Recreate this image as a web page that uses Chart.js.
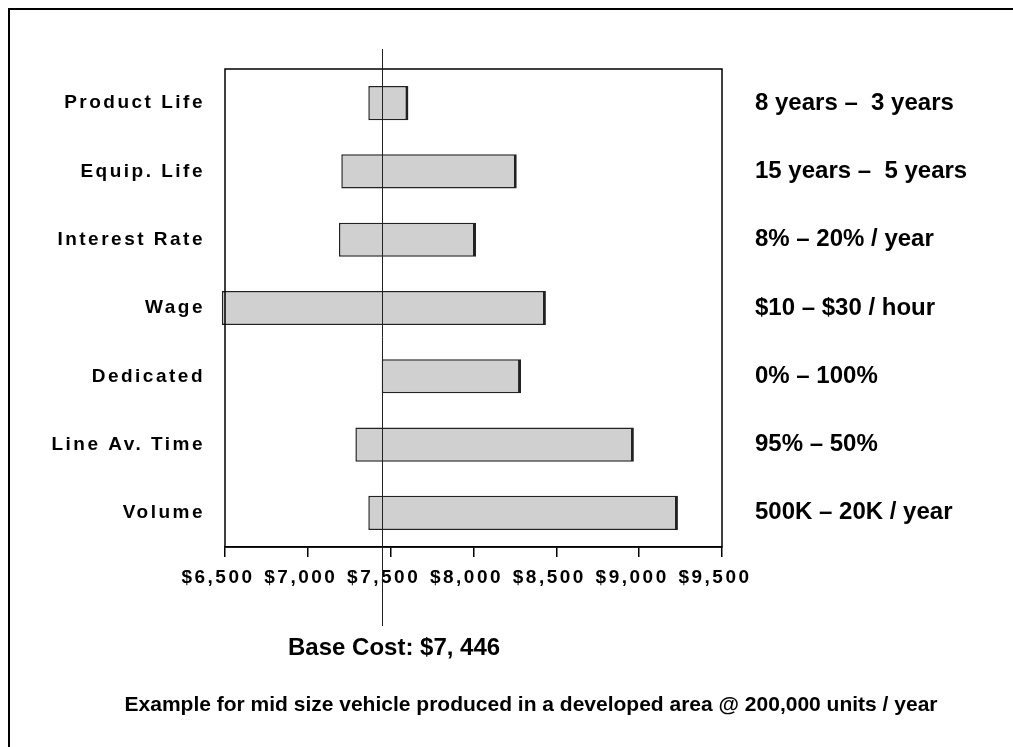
<!DOCTYPE html>
<html>
<head>
<meta charset="utf-8">
<script src="https://cdn.jsdelivr.net/npm/chart.js@4"></script>
<style>
  body { margin: 0; background: #fff; }
  canvas { display: block; }
</style>
</head>
<body>
<canvas id="tornado" width="1013" height="747"></canvas>
<script>
const factors = ["Product Life", "Equip. Life", "Interest Rate", "Wage", "Dedicated", "Line Av. Time", "Volume"];
const lowCost = [7365, 7202, 7188, 6481, 7446, 7287, 7365];
const highCost = [7607, 8261, 8015, 8437, 8287, 8968, 9234];
const rangeLabels = ["8 years \u2013  3 years", "15 years \u2013  5 years", "8% \u2013 20% / year", "$10 \u2013 $30 / hour", "0% \u2013 100%", "95% \u2013 50%", "500K \u2013 20K / year"];
const baseCost = 7446;
const xMin = 6500, xMax = 9500, xStep = 500;
const baseText = "Base Cost: $7, 446";
const caption = "Example for mid size vehicle produced in a developed area @ 200,000 units / year";

const FONT = "'Liberation Sans', Arial, sans-serif";

const extras = {
  id: "extras",
  beforeDraw(chart) {
    chart.ctx.letterSpacing = "2.5px"; // spaced axis labels like the original
  },
  beforeDatasetsDraw(chart) {
    chart.ctx.letterSpacing = "0px";
  },
  afterDatasetsDraw(chart) {
    const ctx = chart.ctx;
    const a = chart.chartArea;
    const x = chart.scales.x, y = chart.scales.y;
    ctx.save();
    ctx.letterSpacing = "0px";

    // outer frame (top + left only visible)
    ctx.strokeStyle = "#000";
    ctx.lineWidth = 2;
    ctx.beginPath();
    ctx.moveTo(1013, 9);
    ctx.lineTo(9, 9);
    ctx.lineTo(9, 747);
    ctx.stroke();

    // plot frame
    ctx.lineWidth = 1.5;
    ctx.strokeRect(a.left, a.top, a.right - a.left, a.bottom - a.top);

    // base cost line
    const bx = Math.round(x.getPixelForValue(baseCost)) + 0.5;
    ctx.lineWidth = 1;
    ctx.strokeStyle = "#222";
    ctx.beginPath();
    ctx.moveTo(bx, 49);
    ctx.lineTo(bx, 626);
    ctx.stroke();

    // range labels on the right
    ctx.fillStyle = "#000";
    ctx.font = "bold 24px " + FONT;
    ctx.textAlign = "left";
    ctx.textBaseline = "middle";
    rangeLabels.forEach((t, i) => ctx.fillText(t, 755, y.getPixelForValue(i)));

    ctx.font = "bold 24px " + FONT;
    ctx.fillText(baseText, 288, 648);

    ctx.font = "bold 21px " + FONT;
    ctx.textAlign = "center";
    ctx.fillText(caption, 531, 705);
    ctx.restore();
  }
};

new Chart(document.getElementById("tornado"), {
  type: "bar",
  data: {
    labels: factors,
    datasets: [{
      data: factors.map((f, i) => [lowCost[i], highCost[i]]),
      backgroundColor: "#d0d0d0",
      borderColor: "#222",
      borderWidth: { top: 1.5, right: 3, bottom: 1.5, left: 1.5 },
      borderSkipped: false,
      barPercentage: 0.5,
      categoryPercentage: 1,
      clip: false
    }]
  },
  options: {
    indexAxis: "y",
    responsive: false,
    animation: false,
    layout: { padding: { left: 0, right: 291, top: 69, bottom: 0 } },
    plugins: { legend: { display: false }, tooltip: { enabled: false } },
    scales: {
      x: {
        min: xMin,
        max: xMax,
        afterFit: (s) => { s.height = 200; },
        grid: { drawOnChartArea: false, tickLength: 10, color: "#000", lineWidth: 1.5 },
        border: { color: "#000", width: 1.5 },
        ticks: {
          stepSize: xStep,
          padding: 9,
          labelOffset: -7,
          color: "#000",
          font: { family: FONT, size: 19, weight: "bold" },
          maxRotation: 0,
          autoSkip: false,
          callback: (v) => "$" + v.toLocaleString("en-US")
        }
      },
      y: {
        afterFit: (s) => { s.width = 225; },
        grid: { display: false },
        border: { display: false },
        ticks: {
          padding: 12,
          color: "#000",
          font: { family: FONT, size: 19, weight: "bold" }
        }
      }
    }
  },
  plugins: [extras]
});
</script>
</body>
</html>
